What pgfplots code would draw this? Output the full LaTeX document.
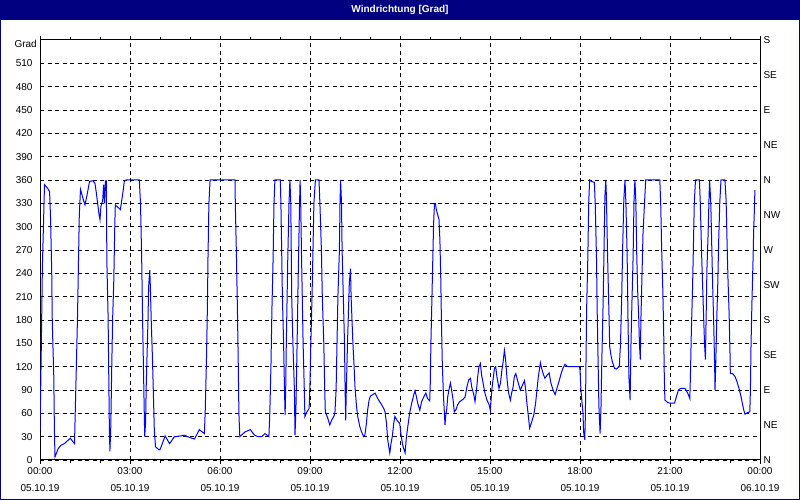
\documentclass[border=0pt]{standalone}
\usepackage{fontspec}
\setmainfont{Liberation Sans}
\usepackage{pgfplots}
\pgfplotsset{compat=1.18}
\definecolor{navybar}{RGB}{0,0,128}
\definecolor{lineblue}{RGB}{0,0,255}
\begin{document}
\begin{tikzpicture}
\useasboundingbox (0pt,0pt) rectangle (800pt,500pt);
\fill[white] (0pt,0pt) rectangle (800pt,500pt);
\fill[navybar] (0pt,480pt) rectangle (800pt,500pt);
\node[text=white, font=\bfseries\fontsize{10}{12}\selectfont] at (400pt,490pt) {Windrichtung [Grad]};
\draw[navybar, line width=1pt] (0.5pt,0.5pt) rectangle (799.5pt,499.5pt);
\begin{axis}[
  at={(40pt,40pt)}, anchor=south west,
  width=720pt, height=420pt, scale only axis,
  xmin=0, xmax=24, ymin=0, ymax=540,
  xtick={0,3,...,24}, minor x tick num=2,
  xticklabels={{00:00\\05.10.19},{03:00\\05.10.19},{06:00\\05.10.19},{09:00\\05.10.19},{12:00\\05.10.19},{15:00\\05.10.19},{18:00\\05.10.19},{21:00\\05.10.19},{00:00\\06.10.19}},
  ytick={0,30,...,510},
  /pgf/number format/assume math mode=true,
  grid=major,
  major grid style={black, line width=0.8pt, dash pattern=on 4pt off 3.5pt},
  axis line style={black, line width=1pt},
  tick align=outside, major tick length=4pt, minor tick length=3pt,
  xtick style={black, line width=0.8pt},
  ytick style={draw=none},
  xticklabel style={align=center, font=\fontsize{10}{17}\selectfont},
  yticklabel style={font=\fontsize{10}{12}\selectfont},
  clip mode=individual,
]
\addplot[lineblue, line width=1pt] coordinates {
(0.00,39) (0.03,107) (0.08,249) (0.15,354) (0.26,349) (0.32,345) (0.35,313) (0.39,244) (0.41,176) (0.46,107) (0.48,39) (0.50,4) (0.61,15) (0.70,19) (0.81,21) (1.01,28) (1.15,21) (1.17,54) (1.21,118) (1.25,184) (1.28,249) (1.31,315) (1.35,348) (1.45,334) (1.50,328) (1.57,341) (1.65,358) (1.76,359) (1.83,356) (1.88,343) (1.92,330) (1.97,315) (2.00,309) (2.03,326) (2.09,334) (2.12,354) (2.15,330) (2.18,359) (2.21,359) (2.23,253) (2.27,184) (2.29,116) (2.31,47) (2.33,11) (2.36,43) (2.39,116) (2.42,180) (2.46,231) (2.49,296) (2.51,328) (2.68,322) (2.76,343) (2.81,358) (2.87,360) (3.31,360) (3.35,330) (3.39,257) (3.42,180) (3.46,94) (3.49,30) (3.52,49) (3.54,94) (3.57,137) (3.60,180) (3.62,223) (3.66,244) (3.68,221) (3.71,176) (3.75,129) (3.78,84) (3.81,39) (3.85,17) (3.97,13) (4.01,14) (4.17,31) (4.32,21) (4.48,30) (4.70,31) (4.81,32) (4.98,29) (5.15,27) (5.31,39) (5.48,34) (5.51,66) (5.55,131) (5.58,197) (5.60,261) (5.63,330) (5.67,360) (6.50,360) (6.51,330) (6.55,259) (6.58,195) (6.61,120) (6.63,60) (6.66,30) (6.83,36) (7.01,39) (7.15,32) (7.26,30) (7.39,30) (7.50,34) (7.63,30) (7.66,60) (7.70,124) (7.73,193) (7.77,259) (7.80,330) (7.83,360) (8.01,360) (8.03,330) (8.08,210) (8.12,150) (8.15,90) (8.17,58) (8.19,90) (8.21,150) (8.26,261) (8.30,330) (8.33,360) (8.36,330) (8.39,210) (8.43,150) (8.48,90) (8.50,32) (8.53,64) (8.57,150) (8.61,244) (8.65,326) (8.67,360) (8.69,330) (8.72,257) (8.77,150) (8.81,90) (8.83,56) (8.90,62) (8.97,66) (9.00,99) (9.03,154) (9.07,214) (9.10,272) (9.13,330) (9.18,360) (9.30,360) (9.33,330) (9.38,270) (9.41,210) (9.46,150) (9.49,92) (9.51,62) (9.59,54) (9.66,45) (9.72,51) (9.79,56) (9.83,60) (9.87,90) (9.90,150) (9.93,210) (9.98,270) (10.00,330) (10.02,360) (10.05,330) (10.07,270) (10.11,210) (10.15,150) (10.17,90) (10.19,51) (10.21,90) (10.25,150) (10.28,189) (10.31,227) (10.35,246) (10.37,210) (10.40,180) (10.43,150) (10.47,120) (10.50,94) (10.55,69) (10.59,56) (10.66,43) (10.72,36) (10.79,30) (10.83,32) (10.88,47) (10.92,64) (10.97,77) (11.01,82) (11.09,84) (11.17,86) (11.26,79) (11.32,75) (11.39,71) (11.46,66) (11.50,62) (11.55,47) (11.59,26) (11.66,9) (11.70,21) (11.75,32) (11.79,47) (11.83,56) (11.90,51) (11.99,47) (12.03,34) (12.08,21) (12.12,15) (12.17,9) (12.21,28) (12.26,43) (12.32,60) (12.39,73) (12.46,84) (12.50,89) (12.55,81) (12.59,73) (12.66,64) (12.72,75) (12.79,81) (12.86,86) (12.92,79) (12.99,76) (13.01,99) (13.03,150) (13.06,201) (13.09,253) (13.12,304) (13.15,330) (13.18,330) (13.21,322) (13.26,315) (13.30,309) (13.33,283) (13.36,231) (13.38,180) (13.41,124) (13.45,81) (13.48,60) (13.50,45) (13.52,56) (13.56,66) (13.59,81) (13.63,90) (13.68,99) (13.72,90) (13.77,77) (13.81,62) (13.87,65) (13.92,71) (13.99,75) (14.10,78) (14.17,81) (14.23,94) (14.29,103) (14.35,105) (14.39,94) (14.46,84) (14.50,75) (14.55,90) (14.59,107) (14.63,120) (14.68,124) (14.72,109) (14.77,99) (14.83,86) (14.90,77) (14.97,71) (15.01,64) (15.06,90) (15.10,103) (15.15,118) (15.19,120) (15.23,107) (15.30,92) (15.35,99) (15.39,114) (15.43,124) (15.48,141) (15.52,129) (15.57,103) (15.62,86) (15.68,77) (15.72,86) (15.77,94) (15.81,107) (15.86,111) (15.92,102) (16.01,90) (16.08,96) (16.15,102) (16.19,90) (16.23,73) (16.28,56) (16.32,41) (16.39,49) (16.46,58) (16.52,73) (16.57,92) (16.61,107) (16.68,125) (16.72,118) (16.77,111) (16.83,105) (16.90,109) (16.97,112) (17.03,99) (17.10,90) (17.17,84) (17.23,92) (17.30,101) (17.37,111) (17.43,118) (17.50,123) (17.59,120) (17.98,120) (18.00,116) (18.03,90) (18.07,73) (18.10,60) (18.12,36) (18.16,26) (18.18,60) (18.20,126) (18.22,193) (18.26,259) (18.29,330) (18.32,360) (18.39,358) (18.48,357) (18.51,326) (18.55,259) (18.57,197) (18.60,133) (18.63,69) (18.67,34) (18.70,69) (18.73,133) (18.77,201) (18.80,268) (18.83,339) (18.86,360) (18.88,339) (18.92,261) (18.96,197) (18.99,146) (19.03,135) (19.08,126) (19.15,118) (19.21,117) (19.31,120) (19.35,150) (19.39,210) (19.42,270) (19.46,334) (19.50,360) (19.53,330) (19.57,266) (19.60,180) (19.63,107) (19.67,77) (19.70,150) (19.73,201) (19.77,261) (19.80,334) (19.83,360) (19.86,334) (19.89,266) (19.92,220) (19.96,180) (19.98,150) (20.01,129) (20.03,180) (20.07,244) (20.10,291) (20.15,330) (20.19,360) (20.66,360) (20.69,330) (20.72,274) (20.76,219) (20.79,163) (20.81,107) (20.83,77) (20.92,74) (21.00,73) (21.15,73) (21.21,81) (21.28,90) (21.35,92) (21.50,92) (21.59,86) (21.66,79) (21.68,107) (21.71,163) (21.75,219) (21.78,274) (21.81,332) (21.85,360) (21.98,360) (22.01,330) (22.05,270) (22.07,244) (22.11,197) (22.15,150) (22.18,129) (22.21,197) (22.23,244) (22.27,291) (22.30,336) (22.32,360) (22.36,330) (22.39,278) (22.42,227) (22.46,171) (22.49,116) (22.50,90) (22.52,116) (22.56,184) (22.59,223) (22.62,278) (22.66,332) (22.70,360) (22.83,360) (22.87,334) (22.90,283) (22.93,236) (22.97,189) (23.00,137) (23.01,111) (23.09,111) (23.17,107) (23.23,101) (23.30,92) (23.37,81) (23.41,73) (23.46,64) (23.50,59) (23.59,61) (23.66,62) (23.68,90) (23.70,146) (23.73,201) (23.77,261) (23.79,296) (23.81,319) (23.83,347)
};
\end{axis}
\node[anchor=east, font=\fontsize{10}{12}\selectfont, inner sep=3pt] at (40pt,456pt) {Grad};
\begin{axis}[
  at={(40pt,40pt)}, anchor=south west,
  width=720pt, height=420pt, scale only axis,
  xmin=0, xmax=24, ymin=0, ymax=540,
  axis x line=none, axis y line*=right,
  axis line style={black, line width=1pt},
  ytick={0,45,...,540},
  yticklabels={N,NE,E,SE,S,SW,W,NW,N,NE,E,SE,S},
  ytick style={draw=none},
  yticklabel style={font=\fontsize{10}{12}\selectfont},
]
\addplot[draw=none] coordinates {(0,0)};
\end{axis}
\end{tikzpicture}
\end{document}
